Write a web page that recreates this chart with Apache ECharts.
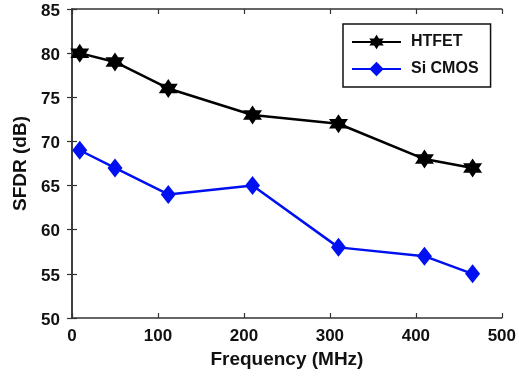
<!DOCTYPE html>
<html>
<head>
<meta charset="utf-8">
<script src="https://cdn.jsdelivr.net/npm/echarts@6/dist/echarts.min.js"></script>
<style>
  html, body { margin: 0; padding: 0; background: #fff; }
  #chart { width: 519px; height: 380px; }
</style>
</head>
<body>
<div id="chart"></div>
<script>
// frequency (MHz) / SFDR (dB)
const htfetFreq = [9, 50, 112, 210, 310, 410, 466]
const htfetSfdr = [80, 79, 76, 73, 72, 68, 67]
const cmosFreq  = [9, 50, 112, 210, 310, 410, 466]
const cmosSfdr  = [69, 67, 64, 65, 58, 57, 55]

const xTicks = [0, 100, 200, 300, 400, 500]
const yTicks = [50, 55, 60, 65, 70, 75, 80, 85]

const STAR = 'path://M0,-10 L2.89,-5 L8.66,-5 L5.77,0 L8.66,5 L2.89,5 L0,10 L-2.89,5 L-8.66,5 L-5.77,0 L-8.66,-5 L-2.89,-5 Z'
const FONT = 'Liberation Sans, Arial, sans-serif'
const AXIS = '#333'

const chart = echarts.init(document.getElementById('chart'), null, { renderer: 'canvas' })

const tickStyle = { inside: true, length: 5, lineStyle: { color: AXIS, width: 1.2 } }
const labelStyle = { color: '#111', fontSize: 17, fontWeight: 'bold', fontFamily: FONT }
const titleStyle = { color: '#111', fontSize: 19, fontWeight: 'bold', fontFamily: FONT }

const xBase = {
  type: 'value',
  min: xTicks[0],
  max: xTicks[xTicks.length - 1],
  interval: 100,
  splitLine: { show: false },
  axisLine: { show: true, lineStyle: { color: AXIS, width: 1.5 } },
  axisTick: tickStyle,
}
const yBase = {
  type: 'value',
  min: yTicks[0],
  max: yTicks[yTicks.length - 1],
  interval: 5,
  splitLine: { show: false },
  axisLine: { show: true, lineStyle: { color: AXIS, width: 1.5 } },
  axisTick: tickStyle,
}

chart.setOption({
  animation: false,
  backgroundColor: '#fff',
  grid: { left: 72, right: 11, top: 9, bottom: 62 },
  legend: {
    left: 343,
    top: 24,
    orient: 'vertical',
    padding: [10, 12, 10, 8],
    itemGap: 11,
    itemWidth: 49,
    itemHeight: 18,
    borderColor: '#111',
    borderWidth: 1.5,
    backgroundColor: '#fff',
    textStyle: { ...labelStyle, fontSize: 16, padding: [0, 0, 0, 5] },
    data: ['HTFET', 'Si CMOS'],
  },
  xAxis: [
    {
      ...xBase,
      position: 'bottom',
      name: 'Frequency (MHz)',
      nameLocation: 'middle',
      nameGap: 24,
      nameTextStyle: titleStyle,
      axisLabel: { ...labelStyle, margin: 10 },
    },
    { ...xBase, position: 'top', axisLabel: { show: false } },
  ],
  yAxis: [
    {
      ...yBase,
      position: 'left',
      name: 'SFDR (dB)',
      nameLocation: 'middle',
      nameGap: 40,
      nameTextStyle: titleStyle,
      axisLabel: {
        margin: 12,
        formatter: v => '{t|' + v + '}',
        rich: { t: { ...labelStyle, padding: [4, 0, 0, 0] } },
      },
    },
    { ...yBase, position: 'right', axisLabel: { show: false } },
  ],
  series: [
    {
      name: 'HTFET',
      type: 'line',
      data: htfetFreq.map((f, i) => [f, htfetSfdr[i]]),
      symbol: STAR,
      symbolSize: 19,
      lineStyle: { color: '#000', width: 2.5 },
      itemStyle: { color: '#000' },
    },
    {
      name: 'Si CMOS',
      type: 'line',
      data: cmosFreq.map((f, i) => [f, cmosSfdr[i]]),
      symbol: 'diamond',
      symbolSize: [15, 19],
      lineStyle: { color: '#0010f0', width: 2.5 },
      itemStyle: { color: '#0010f0' },
    },
  ],
})
</script>
</body>
</html>
